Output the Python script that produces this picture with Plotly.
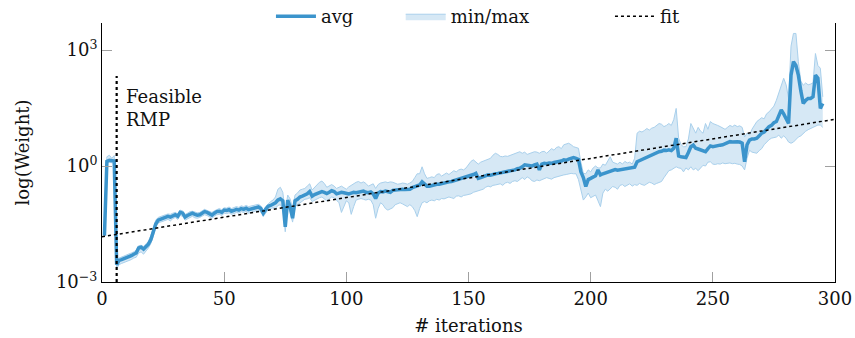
import numpy as np
import plotly.graph_objects as go

# Column-generation run: per-iteration weights (stored as log10 values)
iterations = list(range(1, 296))

avg_log10 = [
    -1.80, 0.12, 0.15, 0.14, 0.13, -2.55, -2.44, -2.42, -2.40, -2.37,
    -2.35, -2.32, -2.28, -2.25, -2.12, -2.10, -2.15, -2.07, -2.02, -1.90,
    -1.72, -1.50, -1.40, -1.38, -1.35, -1.33, -1.30, -1.32, -1.28, -1.26,
    -1.30, -1.20, -1.22, -1.32, -1.28, -1.24, -1.22, -1.25, -1.27, -1.26,
    -1.22, -1.18, -1.20, -1.24, -1.27, -1.22, -1.18, -1.17, -1.20, -1.14,
    -1.15, -1.13, -1.17, -1.15, -1.12, -1.14, -1.10, -1.12, -1.09, -1.13,
    -1.11, -1.09, -1.07, -1.06, -1.10, -1.22, -1.12, -1.04, -1.02, -0.98,
    -0.95, -0.88, -0.85, -0.90, -1.57, -0.88, -1.05, -1.35, -0.90, -0.86,
    -0.80, -0.78, -0.75, -0.72, -0.66, -0.78, -0.74, -0.71, -0.69, -0.66,
    -0.68, -0.71, -0.68, -0.64, -0.66, -0.72, -0.70, -0.68, -0.69, -0.71,
    -0.72, -0.70, -0.68, -0.69, -0.67, -0.66, -0.65, -0.68, -0.69, -0.67,
    -0.72, -0.84, -0.70, -0.66, -0.67, -0.65, -0.66, -0.68, -0.63, -0.62,
    -0.63, -0.62, -0.60, -0.61, -0.60, -0.60, -0.56, -0.53, -0.50, -0.49,
    -0.41, -0.48, -0.52, -0.52, -0.50, -0.48, -0.47, -0.47, -0.45, -0.44,
    -0.42, -0.41, -0.40, -0.38, -0.37, -0.36, -0.34, -0.32, -0.30, -0.28,
    -0.25, -0.22, -0.19, -0.32, -0.30, -0.27, -0.25, -0.23, -0.24, -0.21,
    -0.20, -0.19, -0.18, -0.17, -0.16, -0.15, -0.14, -0.12, -0.10, -0.07,
    -0.06, -0.02, 0.03, 0.02, 0.00, 0.00, 0.03, 0.05, -0.10, 0.05,
    0.07, 0.06, 0.08, 0.07, 0.09, 0.10, 0.12, 0.13, 0.16, 0.15,
    0.18, 0.20, 0.22, 0.20, 0.17, -0.15, -0.30, -0.53, -0.35, -0.32,
    -0.28, -0.25, -0.10, -0.23, -0.20, -0.18, -0.15, -0.13, -0.10, -0.09,
    -0.11, -0.10, -0.08, -0.07, -0.06, -0.05, -0.04, -0.03, 0.11, 0.14,
    0.18, 0.20, 0.23, 0.26, 0.28, 0.31, 0.35, 0.37, 0.38, 0.41,
    0.40, 0.42, 0.40, 0.46, 0.72, 0.26, 0.24, 0.24, 0.22, 0.35,
    0.50, 0.54, 0.46, 0.44, 0.42, 0.40, 0.37, 0.45, 0.52, 0.50,
    0.52, 0.53, 0.54, 0.55, 0.58, 0.60, 0.63, 0.62, 0.63, 0.63,
    0.62, 0.59, 0.11, 0.55, 0.67, 0.70, 0.70, 0.72, 0.78, 0.85,
    0.88, 0.95, 1.02, 1.05, 1.12, 1.15, 1.30, 1.45, 1.35, 1.23,
    1.10, 2.35, 2.70, 2.60, 2.35, 1.95, 1.62, 1.70, 1.75, 1.75,
    1.79, 2.35, 2.27, 1.49, 1.62,
]

max_log10 = [
    -1.76, 0.24, 0.28, 0.20, 0.27, -2.45, -2.38, -2.36, -2.33, -2.30,
    -2.28, -2.25, -2.22, -2.18, -2.06, -2.05, -2.08, -2.00, -1.95, -1.80,
    -1.62, -1.40, -1.33, -1.30, -1.28, -1.26, -1.24, -1.25, -1.22, -1.20,
    -1.24, -1.14, -1.16, -1.25, -1.22, -1.18, -1.17, -1.20, -1.21, -1.20,
    -1.16, -1.12, -1.15, -1.18, -1.20, -1.16, -1.12, -1.10, -1.13, -1.08,
    -1.09, -1.06, -1.10, -1.08, -1.05, -1.07, -1.03, -1.05, -1.02, -1.05,
    -1.03, -1.02, -1.00, -0.99, -1.03, -1.14, -1.05, -0.97, -0.92, -0.88,
    -0.80, -0.60, -0.55, -0.68, -1.20, -0.75, -0.85, -1.10, -0.75, -0.70,
    -0.62, -0.60, -0.58, -0.52, -0.46, -0.62, -0.55, -0.48, -0.42, -0.39,
    -0.45, -0.55, -0.52, -0.48, -0.52, -0.58, -0.55, -0.52, -0.56, -0.60,
    -0.54, -0.50, -0.45, -0.42, -0.40, -0.44, -0.41, -0.45, -0.52, -0.48,
    -0.46, -0.58, -0.48, -0.44, -0.42, -0.41, -0.43, -0.41, -0.42, -0.45,
    -0.47, -0.46, -0.44, -0.45, -0.47, -0.44, -0.40, -0.30, -0.20, -0.20,
    -0.02, -0.20, -0.32, -0.30, -0.28, -0.30, -0.22, -0.20, -0.26, -0.22,
    -0.18, -0.22, -0.16, -0.12, -0.15, -0.10, -0.08, -0.10, -0.05, 0.05,
    0.12, 0.16, 0.10, 0.05, 0.10, 0.12, 0.15, 0.18, 0.20, 0.28,
    0.33, 0.30, 0.25, 0.24, 0.26, 0.25, 0.27, 0.30, 0.32, 0.35,
    0.37, 0.33, 0.36, 0.30, 0.32, 0.35, 0.37, 0.36, 0.33, 0.37,
    0.38, 0.33, 0.40, 0.45, 0.41, 0.48, 0.50, 0.45, 0.55, 0.58,
    0.59, 0.55, 0.50, 0.48, 0.46, 0.10, -0.19, -0.20, -0.10, -0.15,
    -0.05, 0.00, -0.05, -0.05, 0.05, 0.02, 0.15, 0.24, 0.10, 0.08,
    0.05, 0.10, 0.05, 0.12, 0.08, 0.10, 0.05, 0.20, 0.85, 0.90,
    0.88, 0.92, 0.97, 0.93, 0.98, 1.00, 1.06, 1.10, 1.08, 1.02,
    1.05, 1.10, 1.05, 1.20, 1.49, 0.72, 0.55, 0.50, 0.50, 0.70,
    1.10, 0.95, 0.85, 1.00, 0.90, 0.85, 1.10, 0.95, 1.15, 1.10,
    1.08, 1.05, 1.02, 0.98, 0.95, 1.00, 1.05, 1.02, 1.06, 1.02,
    1.04, 1.00, 0.75, 0.85, 0.80, 0.95, 1.05, 1.15, 1.20, 1.25,
    1.22, 1.35, 1.40, 1.48, 1.55, 1.70, 1.88, 2.10, 2.27, 2.10,
    1.75, 3.10, 3.43, 3.43, 2.70, 2.20, 2.09, 2.15, 2.10, 2.12,
    2.15, 2.91, 2.60, 2.53, 1.79,
]

min_log10 = [
    -1.84, 0.08, 0.10, 0.08, 0.07, -2.65, -2.55, -2.52, -2.50, -2.47,
    -2.45, -2.42, -2.38, -2.36, -2.25, -2.22, -2.28, -2.20, -2.12, -2.00,
    -1.82, -1.58, -1.47, -1.45, -1.42, -1.40, -1.38, -1.42, -1.36, -1.33,
    -1.38, -1.28, -1.30, -1.40, -1.36, -1.32, -1.30, -1.34, -1.35, -1.33,
    -1.30, -1.26, -1.28, -1.32, -1.35, -1.30, -1.26, -1.25, -1.28, -1.22,
    -1.23, -1.21, -1.25, -1.23, -1.20, -1.22, -1.18, -1.20, -1.17, -1.22,
    -1.20, -1.17, -1.15, -1.14, -1.19, -1.30, -1.22, -1.12, -1.10, -1.08,
    -1.10, -1.02, -1.00, -1.10, -1.70, -1.00, -1.20, -1.45, -1.05, -1.00,
    -0.95, -0.90, -0.86, -0.85, -0.82, -0.92, -0.88, -0.85, -0.82, -0.80,
    -0.84, -0.90, -0.85, -0.80, -0.82, -0.90, -0.95, -1.20, -1.05, -0.90,
    -0.95, -1.25, -1.05, -0.88, -0.86, -0.84, -0.86, -0.88, -0.86, -0.88,
    -1.00, -1.35, -1.10, -0.95, -1.00, -1.10, -1.14, -1.10, -1.08, -1.00,
    -0.97, -0.95, -0.98, -1.02, -1.05, -1.00, -1.05, -1.15, -1.31, -1.10,
    -0.95, -0.92, -0.95, -0.90, -0.88, -0.90, -0.86, -0.88, -0.84, -0.85,
    -0.82, -0.80, -0.82, -0.84, -0.78, -0.77, -0.80, -0.76, -0.75, -0.74,
    -0.72, -0.68, -0.66, -0.65, -0.62, -0.60, -0.55, -0.52, -0.54, -0.50,
    -0.49, -0.48, -0.46, -0.50, -0.44, -0.42, -0.45, -0.40, -0.38, -0.40,
    -0.35, -0.30, -0.35, -0.28, -0.32, -0.38, -0.40, -0.36, -0.38, -0.35,
    -0.33, -0.30, -0.32, -0.34, -0.30, -0.28, -0.26, -0.25, -0.23, -0.22,
    -0.21, -0.19, -0.20, -0.20, -0.35, -0.60, -0.88, -0.80, -0.70, -0.82,
    -0.78, -0.75, -0.90, -1.05, -0.70, -0.60, -0.65, -0.58, -0.53, -0.55,
    -0.60, -0.50, -0.48, -0.53, -0.50, -0.46, -0.52, -0.48, -0.50, -0.45,
    -0.48, -0.50, -0.46, -0.42, -0.44, -0.48, -0.45, -0.42, -0.40, -0.30,
    -0.20, -0.12, -0.10, -0.05, -0.02, -0.05, -0.06, -0.15, -0.05, -0.10,
    -0.02, -0.10, -0.06, -0.12, -0.06, 0.02, 0.00, 0.10, 0.11, 0.05,
    0.04, 0.06, 0.05, 0.08, 0.06, 0.07, 0.08, 0.06, 0.07, 0.05,
    0.04, 0.00, -0.10, 0.20, 0.41, 0.36, 0.34, 0.33, 0.40, 0.45,
    0.55, 0.62, 0.68, 0.72, 0.73, 0.75, 0.80, 0.72, 0.78, 0.72,
    0.62, 0.59, 0.62, 0.70, 0.75, 0.78, 0.85, 0.90, 0.94, 0.97,
    0.98, 1.02, 1.06, 1.06, 1.00,
]

# Log-linear trend line (endpoints, log10)
fit_iter = [0, 300]
fit_log10 = [-1.83, 1.21]

# Iteration at which the restricted master problem becomes feasible
feasible_iter = 6
feasible_marker_top_log10 = 2.33

x_ticks = [0, 50, 100, 150, 200, 250, 300]
y_tick_vals = [1e-3, 1e0, 1e3]
y_tick_text = ["10<sup>\u22123</sup>", "10<sup>0</sup>", "10<sup>3</sup>"]

avg = np.power(10.0, avg_log10)
w_max = np.power(10.0, max_log10)
w_min = np.power(10.0, min_log10)
fit = np.power(10.0, fit_log10)

LINE_BLUE = "#3b94cc"
BAND_FILL = "#d6e8f5"
BAND_EDGE = "#a9d0ec"
FONT = "DejaVu Serif"

fig = go.Figure()

fig.add_trace(go.Scatter(
    x=iterations, y=w_min, mode="lines",
    line=dict(color=BAND_EDGE, width=1),
    showlegend=False, hoverinfo="skip",
))
fig.add_trace(go.Scatter(
    x=iterations, y=w_max, mode="lines", name="min/max",
    line=dict(color=BAND_EDGE, width=1),
    fill="tonexty", fillcolor=BAND_FILL, legend="legend2",
))
fig.add_trace(go.Scatter(
    x=iterations, y=avg, mode="lines", name="avg",
    line=dict(color=LINE_BLUE, width=3.5), legend="legend",
))
fig.add_trace(go.Scatter(
    x=fit_iter, y=fit, mode="lines", name="fit",
    line=dict(color="black", width=1.5, dash="dot"), legend="legend3",
))
fig.add_trace(go.Scatter(
    x=[feasible_iter, feasible_iter],
    y=[1e-3, 10 ** feasible_marker_top_log10],
    mode="lines", line=dict(color="black", width=2.2, dash="dot"),
    showlegend=False, hoverinfo="skip",
))

fig.add_annotation(
    x=9, y=1.5, xref="x", yref="y",
    text="Feasible<br>RMP", showarrow=False,
    xanchor="left", yanchor="middle", align="left",
    font=dict(family=FONT, size=18, color="#111"),
)

legend_style = dict(
    orientation="h", xanchor="left", y=1.025, yanchor="middle",
    font=dict(family=FONT, size=18), bgcolor="rgba(0,0,0,0)",
    itemwidth=40,
)

fig.update_layout(
    width=855, height=338,
    margin=dict(l=102, r=20, t=23, b=56, autoexpand=False),
    paper_bgcolor="white", plot_bgcolor="white",
    font=dict(family=FONT, size=18, color="#111"),
    legend=dict(x=0.2305, **legend_style),
    legend2=dict(x=0.4075, **legend_style),
    legend3=dict(x=0.693, **legend_style),
    showlegend=True,
)

fig.update_xaxes(
    range=[0, 300], tickvals=x_ticks, automargin=False,
    showgrid=False, zeroline=False,
    showline=True, linecolor="black", linewidth=1,
    ticks="inside", ticklen=10, tickcolor="#a0a0a0", tickwidth=1,
    title=dict(text="# iterations", font=dict(family=FONT, size=18), standoff=11),
)
fig.update_yaxes(
    type="log", range=[-3, 3.70], automargin=False,
    tickvals=y_tick_vals, ticktext=y_tick_text,
    showgrid=False, zeroline=False,
    showline=True, linecolor="black", linewidth=1, mirror="ticks",
    ticks="inside", ticklen=10, tickcolor="#a0a0a0", tickwidth=1,
    title=dict(text="log(Weight)", font=dict(family=FONT, size=18), standoff=21),
)

fig.write_html("out.html")
